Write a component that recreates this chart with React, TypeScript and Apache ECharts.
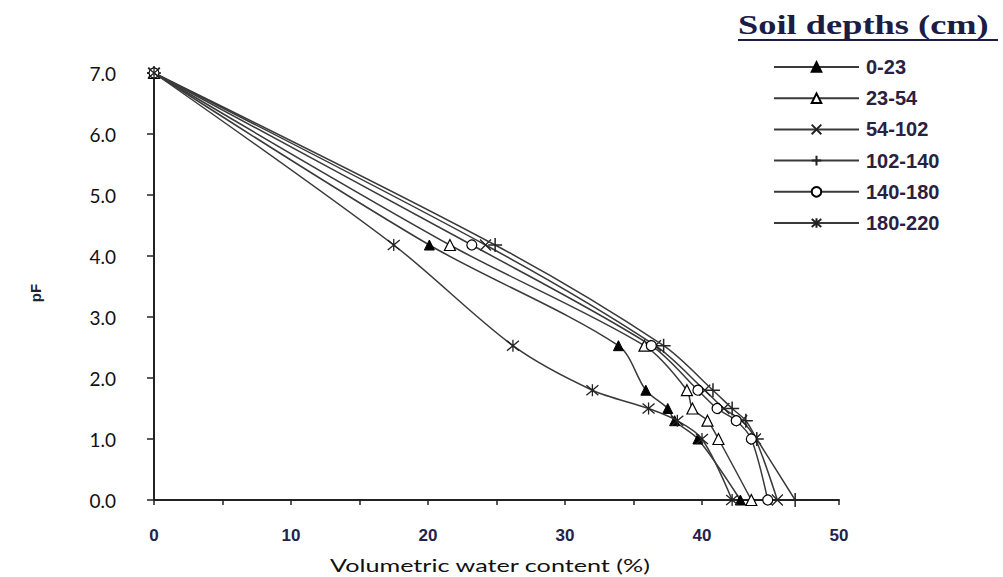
import React, { useEffect, useRef } from "react";
import * as echarts from "echarts";

// pF levels (y) shared by every depth series
const pFLevels = [7.0, 4.18, 2.53, 1.8, 1.5, 1.3, 1.0, 0.0];

// Volumetric water content (%) at each pF level, per soil depth
const depth0_23 = [0, 20.1, 33.9, 35.9, 37.5, 38.0, 39.7, 42.8];
const depth23_54 = [0, 21.6, 35.8, 38.9, 39.3, 40.4, 41.2, 43.6];
const depth54_102 = [0, 24.2, 36.6, 40.2, 41.6, 42.9, 43.9, 45.5];
const depth102_140 = [0, 24.9, 37.2, 40.8, 42.2, 43.2, 44.0, 46.8];
const depth140_180 = [0, 23.2, 36.3, 39.7, 41.1, 42.5, 43.6, 44.8];
const depth180_220 = [0, 17.5, 26.2, 32.0, 36.1, 38.2, 40.0, 42.2];

const depthNames = ["0-23", "23-54", "54-102", "102-140", "140-180", "180-220"];
const depthValues = [depth0_23, depth23_54, depth54_102, depth102_140, depth140_180, depth180_220];

const xTicks = [0, 10, 20, 30, 40, 50];

const CROSS = "path://M0,0L10,10M10,0L0,10";
const PLUS = "path://M5,0L5,10M0,5L10,5";
const STAR = "path://M0,0L10,10M10,0L0,10M5,-1L5,11";

const markerStyles: any[] = [
  { symbol: "triangle", symbolSize: 10, itemStyle: { color: "#000", borderColor: "#000", borderWidth: 1 } },
  { symbol: "triangle", symbolSize: 11, itemStyle: { color: "#fff", borderColor: "#000", borderWidth: 1.2 } },
  { symbol: CROSS, symbolSize: 11, itemStyle: { color: "rgba(0,0,0,0)", borderColor: "#222", borderWidth: 1.3 } },
  { symbol: PLUS, symbolSize: 14, itemStyle: { color: "rgba(0,0,0,0)", borderColor: "#222", borderWidth: 1.5 } },
  { symbol: "circle", symbolSize: 10, itemStyle: { color: "#fff", borderColor: "#000", borderWidth: 1.2 } },
  { symbol: STAR, symbolSize: 12, itemStyle: { color: "rgba(0,0,0,0)", borderColor: "#222", borderWidth: 1.3 } },
];

export default function App() {
  const ref = useRef<HTMLDivElement>(null);
  useEffect(() => {
    const chart = echarts.init(ref.current!, null, { renderer: "svg" });
    const series = depthNames.map((name, i) => ({
      name,
      type: "line",
      data: depthValues[i].map((x, j) => [x, pFLevels[j]]),
      smooth: 0.3,
      showAllSymbol: true,
      lineStyle: { color: "#3a3a3a", width: 1.5 },
      ...markerStyles[i],
      z: 2 + i,
    }));
    chart.setOption({
      animation: false,
      backgroundColor: "#fff",
      grid: { left: 154, right: 164, top: 73, bottom: 77 },
      xAxis: {
        type: "value",
        min: 0,
        max: 50,
        interval: 5,
        axisLine: { show: true, onZero: false, lineStyle: { color: "#222", width: 2 } },
        axisTick: { show: true, length: 5, lineStyle: { color: "#222", width: 1.5 } },
        splitLine: { show: false },
        axisLabel: {
          margin: 27,
          fontFamily: "Liberation Sans, Arial, sans-serif",
          fontWeight: "bold",
          fontSize: 17,
          color: "#24224a",
          formatter: (v: number) => (xTicks.includes(v) ? String(v) : ""),
        },
      },
      yAxis: {
        type: "value",
        min: 0,
        max: 7,
        interval: 1,
        axisLine: { show: true, onZero: false, lineStyle: { color: "#222", width: 2 } },
        axisTick: { show: true, length: 7, lineStyle: { color: "#222", width: 1.5 } },
        splitLine: { show: false },
        axisLabel: {
          margin: 38,
          fontFamily: "Lato, sans-serif",
          fontSize: 19,
          color: "#111",
          formatter: (v: number) => v.toFixed(1),
        },
      },
      legend: {
        orient: "vertical",
        left: 773,
        top: 57,
        padding: 0,
        itemWidth: 85,
        itemHeight: 12,
        itemGap: 11.2,
        selectedMode: false,
        textStyle: {
          fontFamily: "Liberation Sans, Arial, sans-serif",
          fontWeight: "bold",
          fontSize: 20,
          color: "#2a2040",
          padding: [0, 0, 0, 2],
        },
        data: depthNames,
      },
      graphic: [
        {
          type: "text",
          x: 738,
          y: 25,
          scaleX: 1.3,
          style: {
            text: "Soil depths (cm)",
            fontFamily: "Liberation Serif, Times New Roman, serif",
            fontWeight: "bold",
            fontSize: 28,
            fill: "#1c1c44",
            verticalAlign: "middle",
          },
        },
        {
          type: "line",
          shape: { x1: 738, y1: 40, x2: 998, y2: 40 },
          style: { stroke: "#1c1c44", lineWidth: 2 },
        },
        {
          type: "text",
          x: 490,
          y: 565,
          scaleX: 1.4,
          style: {
            text: "Volumetric water content (%)",
            fontFamily: "Lato, sans-serif",
            fontSize: 18,
            fill: "#111",
            textAlign: "center",
            verticalAlign: "middle",
          },
        },
        {
          type: "text",
          x: 35,
          y: 293,
          rotation: Math.PI / 2,
          style: {
            text: "pF",
            fontFamily: "Liberation Sans, Arial, sans-serif",
            fontWeight: "bold",
            fontSize: 15,
            fill: "#222",
            textAlign: "center",
            verticalAlign: "middle",
          },
        },
      ],
      series,
    });
    return () => chart.dispose();
  }, []);
  return <div ref={ref} style={{ position: "absolute", left: 0, top: 0, width: 1003, height: 577 }} />;
}
